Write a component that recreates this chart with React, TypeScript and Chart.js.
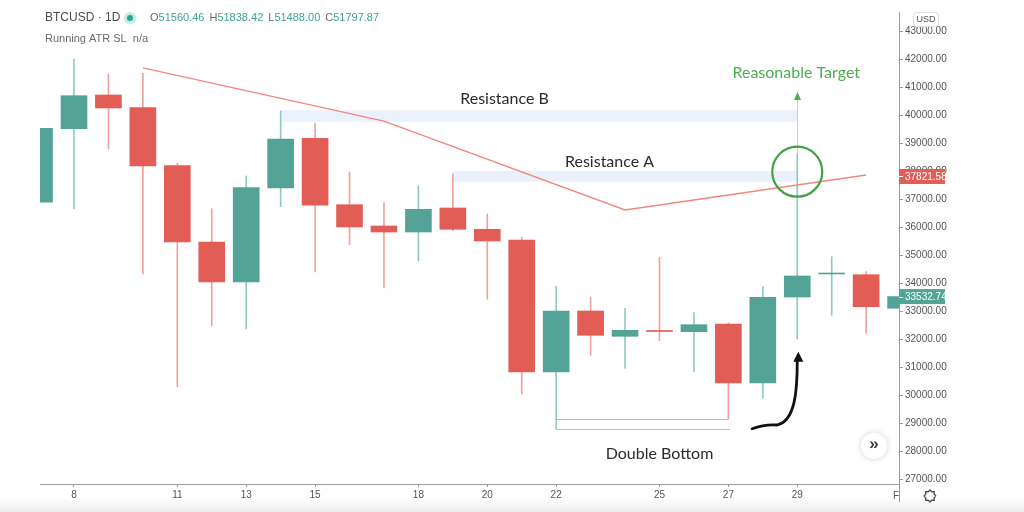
import React, { useEffect, useRef } from "react";
import { Chart, registerables } from "chart.js";

Chart.register(...registerables);

// ---- data (January 2021 daily candles, BTCUSD) ----
const days = [7, 8, 9, 10, 11, 12, 13, 14, 15, 16, 17, 18, 19, 20, 21, 22, 23, 24, 25, 26, 27, 28, 29, 30, 31, 32];
const opens = [36900, 39529, 40732, 40279, 38207, 35482, 34054, 37411, 39186, 36814, 36054, 35839, 36696, 35936, 35554, 30839, 33018, 32114, 32321, 32279, 32554, 30446, 33518, 34339, 34314, 33114];
const highs = [39543, 42018, 41482, 41507, 38293, 36671, 37839, 40161, 39721, 37982, 36886, 37493, 37911, 36482, 35650, 33900, 33518, 33114, 34936, 32957, 32589, 33900, 38625, 34957, 34421, 33700];
const lows = [36900, 36661, 38804, 34339, 30304, 32493, 32375, 36743, 34411, 35386, 33839, 34804, 35886, 33436, 30054, 28804, 31436, 30971, 31957, 30850, 29161, 29900, 32018, 32864, 32221, 32900];
const closes = [39543, 40707, 40268, 38196, 35482, 34054, 37421, 39161, 36793, 36018, 35839, 36650, 35936, 35518, 30839, 33018, 32150, 32329, 32286, 32529, 30446, 33507, 34268, 34375, 33171, 33533];

// trend line (day, price)
const trendDays = [10, 17, 24, 31];
const trendPrices = [41700, 39800, 36625, 37875];

// x-axis tick labels (day of month)
const xTickDays = [8, 11, 13, 15, 18, 20, 22, 25, 27, 29];
// y-axis ticks
const yTicks = [27000, 28000, 29000, 30000, 31000, 32000, 33000, 34000, 35000, 36000, 37000, 38000, 39000, 40000, 41000, 42000, 43000];

// resistance zones: [startDay, endDay, lowPrice, highPrice]
const resistanceB = [14, 29, 39779, 40186];
const resistanceA = [19, 29, 37636, 38018];
// double bottom guide lines: [startDay, endDay, price]
const doubleBottomLines = [
  [22, 27, 29161],
  [22, 27.05, 28811],
];
// target arrow: [day, fromPrice, toPrice]
const targetArrow = [29, 38625, 40732];
const targetCircle = [29, 37993];
const lastPriceRed = 37821.58;
const lastPriceGreen = 33532.74;

const GREEN = "#53a497";
const RED = "#e15d55";
const GREEN_WICK = "#8fcbc2";
const RED_WICK = "#efa29d";
const TXT = "'Lato', 'Open Sans', sans-serif";
const AX = "'Liberation Sans', sans-serif";

const up = (i: number) => closes[i] >= opens[i];

const annotate = {
  id: "annotate",
  beforeDraw(chart: any) {
    const { ctx, width, height } = chart;
    ctx.save();
    ctx.fillStyle = "#ffffff";
    ctx.fillRect(0, 0, width, height);
    const g = ctx.createLinearGradient(0, 497, 0, 512);
    g.addColorStop(0, "rgba(240,240,240,0)");
    g.addColorStop(1, "#ececec");
    ctx.fillStyle = g;
    ctx.fillRect(0, 497, width, 15);
    ctx.restore();
  },
  beforeDatasetsDraw(chart: any) {
    const { ctx, chartArea } = chart;
    const x = chart.scales.x;
    const y = chart.scales.y;
    ctx.save();
    ctx.beginPath();
    ctx.rect(chartArea.left, chartArea.top, chartArea.width, chartArea.height);
    ctx.clip();
    ctx.fillStyle = "#eaf1fd";
    for (const z of [resistanceB, resistanceA]) {
      const x0 = x.getPixelForValue(z[0]);
      const x1 = x.getPixelForValue(z[1]);
      const y0 = y.getPixelForValue(z[3]);
      const y1 = y.getPixelForValue(z[2]);
      ctx.fillRect(x0, y0, x1 - x0, y1 - y0);
    }
    // double bottom lines
    ctx.strokeStyle = "#b3bddd";
    ctx.lineWidth = 1;
    for (const l of doubleBottomLines) {
      const py = Math.round(y.getPixelForValue(l[2])) + 0.5;
      ctx.beginPath();
      ctx.moveTo(x.getPixelForValue(l[0]), py);
      ctx.lineTo(x.getPixelForValue(l[1]), py);
      ctx.stroke();
    }
    // target arrow line
    const tx = Math.round(x.getPixelForValue(targetArrow[0])) + 0.5;
    const ty0 = y.getPixelForValue(targetArrow[1]);
    const ty1 = y.getPixelForValue(targetArrow[2]);
    ctx.strokeStyle = "#b5dcc0";
    ctx.beginPath();
    ctx.moveTo(tx, ty0);
    ctx.lineTo(tx, ty1 + 4);
    ctx.stroke();
    ctx.fillStyle = "#4caf50";
    ctx.beginPath();
    ctx.moveTo(tx, ty1 - 3);
    ctx.lineTo(tx - 3.5, ty1 + 5);
    ctx.lineTo(tx + 3.5, ty1 + 5);
    ctx.closePath();
    ctx.fill();
    ctx.restore();
  },
  afterDatasetsDraw(chart: any) {
    const { ctx, chartArea } = chart;
    const x = chart.scales.x;
    const y = chart.scales.y;
    ctx.save();
    ctx.beginPath();
    ctx.rect(chartArea.left, chartArea.top, chartArea.width, chartArea.height);
    ctx.clip();

    // texts
    ctx.textAlign = "center";
    ctx.textBaseline = "middle";
    ctx.font = `16px ${TXT}`;
    ctx.fillStyle = "#2b2b2b";
    ctx.fillText("Resistance B", x.getPixelForValue(20.5), y.getPixelForValue(40579));
    ctx.fillText("Resistance A", x.getPixelForValue(23.55), y.getPixelForValue(38350));
    ctx.fillText("Double Bottom", x.getPixelForValue(25.0), y.getPixelForValue(27911));
    ctx.fillStyle = "#4caf50";
    ctx.fillText("Reasonable Target", x.getPixelForValue(28.97), y.getPixelForValue(41518));

    // circle
    ctx.strokeStyle = "#43a047";
    ctx.lineWidth = 2.2;
    ctx.beginPath();
    ctx.arc(x.getPixelForValue(targetCircle[0]), y.getPixelForValue(targetCircle[1]), 25, 0, Math.PI * 2);
    ctx.stroke();

    // black hand-drawn arrow
    const P = (d: number, p: number) => [x.getPixelForValue(d), y.getPixelForValue(p)];
    const a0 = P(27.69, 28814);
    const a1 = P(28.42, 28946);
    const c1 = P(28.95, 29100);
    const c2 = P(29.0, 30200);
    const a2 = P(29.0, 31250);
    ctx.strokeStyle = "#111111";
    ctx.lineWidth = 2.8;
    ctx.lineCap = "round";
    ctx.beginPath();
    ctx.moveTo(a0[0], a0[1]);
    ctx.quadraticCurveTo((a0[0] + a1[0]) / 2, a1[1] - 1, a1[0], a1[1]);
    ctx.bezierCurveTo(c1[0], c1[1], c2[0], c2[1], a2[0], a2[1]);
    ctx.stroke();
    const tip = P(29.03, 31560);
    ctx.fillStyle = "#111111";
    ctx.beginPath();
    ctx.moveTo(tip[0], tip[1]);
    ctx.lineTo(tip[0] - 5, tip[1] + 10);
    ctx.lineTo(tip[0] + 5, tip[1] + 10);
    ctx.closePath();
    ctx.fill();
    ctx.restore();

    // scroll button
    ctx.save();
    ctx.shadowColor = "rgba(0,0,0,0.18)";
    ctx.shadowBlur = 6;
    ctx.fillStyle = "#ffffff";
    ctx.beginPath();
    ctx.arc(874, 446, 13, 0, Math.PI * 2);
    ctx.fill();
    ctx.restore();
    ctx.save();
    ctx.fillStyle = "#3a3d45";
    ctx.font = `bold 17px ${AX}`;
    ctx.textAlign = "center";
    ctx.textBaseline = "middle";
    ctx.fillText("»", 874, 444);
    ctx.restore();
  },
  afterDraw(chart: any) {
    const { ctx, chartArea } = chart;
    const y = chart.scales.y;
    ctx.save();
    // extend price axis line below the time axis
    ctx.strokeStyle = "#9a9da6";
    ctx.lineWidth = 1;
    ctx.beginPath();
    ctx.moveTo(chartArea.right + 0.5, chartArea.bottom);
    ctx.lineTo(chartArea.right + 0.5, 502);
    ctx.stroke();

    // header
    ctx.textBaseline = "middle";
    ctx.textAlign = "left";
    ctx.font = `12px ${AX}`;
    ctx.fillStyle = "#4b4b4b";
    ctx.fillText("BTCUSD · 1D", 45, 18);
    ctx.fillStyle = "rgba(38,166,154,0.25)";
    ctx.beginPath();
    ctx.arc(130, 18, 6, 0, Math.PI * 2);
    ctx.fill();
    ctx.fillStyle = "#26a69a";
    ctx.beginPath();
    ctx.arc(130, 18, 3, 0, Math.PI * 2);
    ctx.fill();
    ctx.font = `11px ${AX}`;
    let hx = 150;
    const parts: [string, string][] = [
      ["O", "51560.46"],
      ["H", "51838.42"],
      ["L", "51488.00"],
      ["C", "51797.87"],
    ];
    for (const [k, v] of parts) {
      ctx.fillStyle = "#6b6b6b";
      ctx.fillText(k, hx, 18);
      hx += ctx.measureText(k).width;
      ctx.fillStyle = "#3fa295";
      ctx.fillText(v, hx, 18);
      hx += ctx.measureText(v).width + 5;
    }
    ctx.fillStyle = "#6b6b6b";
    ctx.fillText("Running ATR SL  n/a", 45, 39);

    // USD box
    ctx.strokeStyle = "#e0e0e0";
    ctx.fillStyle = "#ffffff";
    ctx.beginPath();
    (ctx as any).roundRect(913.5, 12.5, 25, 14, 3);
    ctx.fill();
    ctx.stroke();
    ctx.fillStyle = "#555";
    ctx.font = `9px ${AX}`;
    ctx.textAlign = "center";
    ctx.fillText("USD", 926, 20);

    // last price labels
    const labels: [number, string][] = [
      [lastPriceRed, RED],
      [lastPriceGreen, GREEN],
    ];
    ctx.save();
    ctx.beginPath();
    ctx.rect(0, 0, 945, 512);
    ctx.clip();
    for (const [v, c] of labels) {
      const py = y.getPixelForValue(v);
      ctx.fillStyle = c;
      ctx.fillRect(chartArea.right, py - 7.5, 60, 15);
      ctx.strokeStyle = "#ffffff";
      ctx.beginPath();
      ctx.moveTo(chartArea.right, Math.round(py) + 0.5);
      ctx.lineTo(chartArea.right + 4, Math.round(py) + 0.5);
      ctx.stroke();
      ctx.fillStyle = "#ffffff";
      ctx.textAlign = "left";
      ctx.font = `10px ${AX}`;
      ctx.fillText(v.toFixed(2), chartArea.right + 6, py + 0.5);
    }
    ctx.restore();

    // cut "Feb" label at the axis
    ctx.save();
    ctx.beginPath();
    ctx.rect(0, 484, chartArea.right, 28);
    ctx.clip();
    ctx.fillStyle = "#555";
    ctx.font = `10px ${AX}`;
    ctx.textAlign = "left";
    ctx.fillText("Feb", 893, 496);
    ctx.restore();

    // settings gear
    ctx.strokeStyle = "#4a4d55";
    ctx.lineWidth = 1.3;
    ctx.beginPath();
    for (let i = 0; i <= 16; i++) {
      const ang = (i / 16) * Math.PI * 2;
      const r = i % 2 === 0 ? 6 : 4.6;
      const px = 930 + r * Math.cos(ang);
      const py = 496 + r * Math.sin(ang);
      if (i === 0) ctx.moveTo(px, py);
      else ctx.lineTo(px, py);
    }
    ctx.stroke();
    ctx.restore();
  },
};

export default function App() {
  const ref = useRef<HTMLCanvasElement | null>(null);
  useEffect(() => {
    if (!ref.current) return;
    const bodyColors = days.map((_, i) => (up(i) ? GREEN : RED));
    const wickColors = days.map((_, i) => (up(i) ? GREEN_WICK : RED_WICK));
    const chart = new Chart(ref.current, {
      type: "bar",
      data: {
        datasets: [
          {
            type: "line",
            data: trendDays.map((d, i) => ({ x: d, y: trendPrices[i] })),
            borderColor: "#f3877d",
            borderWidth: 1.4,
            pointRadius: 0,
            clip: 0,
          } as any,
          {
            data: days.map((d, i) => ({ x: d, y: [opens[i], closes[i]] })),
            backgroundColor: bodyColors,
            borderWidth: 0,
            barThickness: 26,
            grouped: false,
            minBarLength: 1,
            clip: 0,
          } as any,
          {
            data: days.map((d, i) => ({ x: d, y: [lows[i], highs[i]] })),
            backgroundColor: wickColors,
            borderWidth: 0,
            barThickness: 1,
            grouped: false,
            clip: 0,
          } as any,
        ],
      },
      options: {
        responsive: false,
        animation: false,
        events: [],
        layout: { padding: { left: 40, top: 12, right: 0, bottom: 0 } },
        plugins: { legend: { display: false }, tooltip: { enabled: false } },
        scales: {
          x: {
            type: "linear",
            offset: false,
            min: 7.013,
            max: 31.954,
            afterBuildTicks: (s: any) => {
              s.ticks = xTickDays.map((v) => ({ value: v }));
            },
            afterFit: (s: any) => {
              s.height = 28;
            },
            grid: { offset: false, drawOnChartArea: false, drawTicks: true, tickLength: 3, tickColor: "#9a9da6" },
            border: { display: true, color: "#9a9da6" },
            ticks: {
              color: "#555",
              font: { size: 10, family: AX },
              padding: 2,
              maxRotation: 0,
              autoSkip: false,
              callback: (v: any) => String(v),
            },
          },
          y: {
            type: "linear",
            position: "right",
            min: 26839,
            max: 43696,
            afterBuildTicks: (s: any) => {
              s.ticks = yTicks.map((v) => ({ value: v }));
            },
            afterFit: (s: any) => {
              s.width = 125;
            },
            grid: { drawOnChartArea: false, drawTicks: true, tickLength: 4, tickColor: "#9a9da6" },
            border: { display: true, color: "#9a9da6" },
            ticks: {
              color: "#555",
              font: { size: 10, family: AX },
              padding: 2,
              autoSkip: false,
              callback: (v: any) => Number(v).toFixed(2),
            },
          },
        },
      } as any,
      plugins: [annotate],
    });
    return () => chart.destroy();
  }, []);
  return (
    <div style={{ position: "absolute", left: 0, top: 0, width: 1024, height: 512 }}>
      <canvas ref={ref} width={1024} height={512} style={{ display: "block" }} />
    </div>
  );
}
